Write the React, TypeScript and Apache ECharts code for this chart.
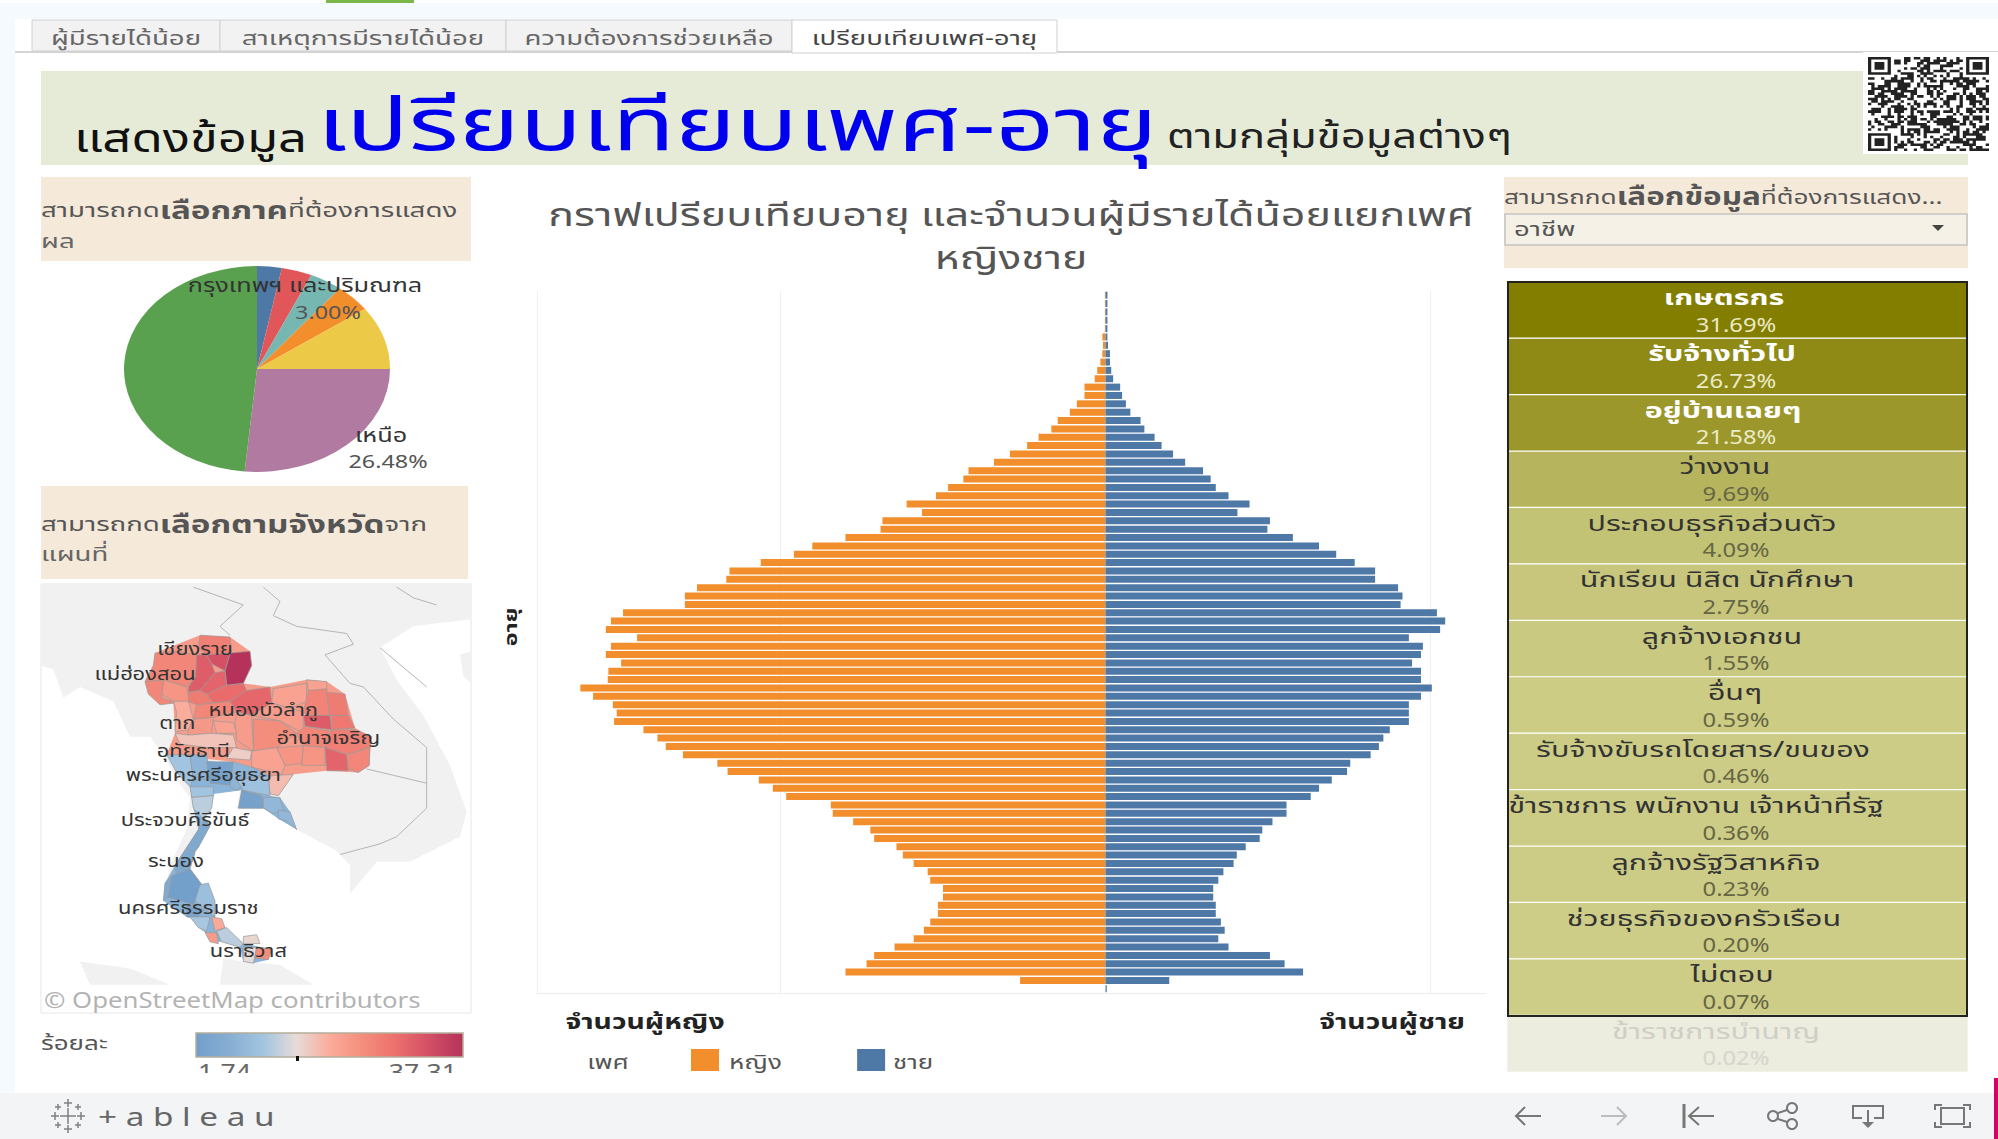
import React, { useEffect, useRef } from "react";
import * as echarts from "echarts";

const FONT = "'Noto Sans', 'Noto Sans Thai', 'Liberation Sans', sans-serif";

const femaleCounts = [1,1,1,1,1,5,4,5,8,13,17,33,33,45,56,75,85,105,123,150,175,215,223,247,266,312,288,350,353,408,460,489,541,590,595,641,660,660,757,776,784,735,776,784,760,780,781,824,804,773,767,771,725,703,690,663,609,593,544,522,501,431,428,396,369,363,328,318,301,279,275,255,255,263,263,275,285,301,331,363,375,408,134,0];
const maleCounts = [3,3,3,3,3,3,4,7,7,9,12,23,26,32,39,55,61,77,88,106,125,153,165,173,193,226,207,258,254,294,335,362,391,423,423,459,466,463,520,533,525,476,498,495,481,495,495,512,495,476,476,476,446,436,429,416,384,379,355,335,322,284,284,262,246,242,220,206,201,185,177,169,169,173,173,181,187,177,193,258,281,310,100,2];
const ageRows = femaleCounts.map((_, i) => String(100 - i));

const occupationNames = ["เกษตรกร","รับจ้างทั่วไป","อยู่บ้านเฉยๆ","ว่างงาน","ประกอบธุรกิจส่วนตัว","นักเรียน นิสิต นักศึกษา","ลูกจ้างเอกชน","อื่นๆ","รับจ้างขับรถโดยสาร/ขนของ","ข้าราชการ พนักงาน เจ้าหน้าที่รัฐ","ลูกจ้างรัฐวิสาหกิจ","ช่วยธุรกิจของครัวเรือน","ไม่ตอบ","ข้าราชการบำนาญ"];
const occupationPercents = [31.69,26.73,21.58,9.69,4.09,2.75,1.55,0.59,0.46,0.36,0.23,0.20,0.07,0.02];
const occupationLabelCentres = [1724,1722,1723,1725,1712,1717,1722,1735,1703,1696,1716,1704,1732,1716];

const regionNames = ["กรุงเทพฯ และปริมณฑล","กลาง","ตะวันออก","ตะวันตก","ใต้","เหนือ","ตะวันออกเฉียงเหนือ"];
const regionPercents = [3.0,3.7,4.0,4.4,9.9,26.48,48.52];
const regionColors = ["#4e79a7","#e15759","#76b7b2","#f28e2b","#edc948","#b07aa1","#59a14f"];

const legendStops = ["#729fcb","#87aed3","#a1c4e0","#e6dcd8","#fbac9c","#f48e7c","#ec6f6d","#d24f65","#b5325b"];

type Prov = { name: string; value: number; pts: number[] };
const provinces: Prov[] = [
  { name: "เชียงราย", value: 26, pts: [510,155,600,160,605,205,530,210,505,190] },
  { name: "แม่ฮ่องสอน", value: 25, pts: [375,205,440,200,500,210,497,270,470,300,400,280,345,285,370,240] },
  { name: "เชียงใหม่", value: 23, pts: [400,280,470,300,480,345,430,340,395,320] },
  { name: "ลำพูน", value: 25, pts: [345,285,400,280,395,330,435,345,390,350,355,320] },
  { name: "น่าน", value: 37.3, pts: [600,205,660,200,665,240,640,290,590,295,585,255] },
  { name: "พะเยา", value: 32.7, pts: [530,210,600,205,585,255,545,235] },
  { name: "ลำปาง", value: 30.9, pts: [500,210,530,210,545,235,555,260,510,310,475,315,475,300,497,270] },
  { name: "แพร่", value: 30, pts: [555,260,585,255,590,295,530,320,510,310] },
  { name: "อุตรดิตถ์", value: 29, pts: [590,295,640,290,650,310,600,340,550,345,530,320] },
  { name: "สุโขทัย", value: 26.6, pts: [475,315,510,310,530,320,550,345,500,350,475,340] },
  { name: "ตาก", value: 19.5, pts: [430,340,475,340,490,390,475,420,435,425,440,370] },
  { name: "กำแพงเพชร", value: 22.5, pts: [490,390,550,385,545,430,475,435,475,420] },
  { name: "พิษณุโลก", value: 25, pts: [500,350,550,345,600,340,620,370,550,385,490,390] },
  { name: "เลย", value: 29.5, pts: [600,340,650,310,720,300,725,345,665,380,620,370] },
  { name: "หนองคาย", value: 21, pts: [730,305,830,290,830,340,780,360,725,345] },
  { name: "บึงกาฬ", value: 21, pts: [830,280,890,285,890,310,835,310] },
  { name: "สกลนคร", value: 25.5, pts: [835,310,890,305,895,350,900,380,840,380,820,370] },
  { name: "นครพนม", value: 26.6, pts: [890,315,945,320,955,380,900,380] },
  { name: "กาฬสินธุ์", value: 31, pts: [820,380,900,380,905,420,825,410] },
  { name: "มุกดาหาร", value: 27, pts: [905,380,955,380,975,415,905,420] },
  { name: "อุดรธานี", value: 22, pts: [725,345,780,360,820,370,820,430,750,395,665,380] },
  { name: "ขอนแก่น", value: 24, pts: [670,390,750,395,800,430,740,470,670,480] },
  { name: "เพชรบูรณ์", value: 22, pts: [620,370,665,380,670,480,620,450,615,400] },
  { name: "พิจิตร", value: 21, pts: [550,395,610,400,620,430,560,430] },
  { name: "ร้อยเอ็ด", value: 25, pts: [800,430,825,410,905,425,890,470,820,465] },
  { name: "อำนาจเจริญ", value: 26, pts: [905,420,975,420,1025,440,1018,470,950,490,885,470] },
  { name: "ลพบุรี", value: 17.4, pts: [435,430,475,435,545,430,610,435,620,470,530,470,450,460] },
  { name: "สระบุรี", value: 16.5, pts: [610,470,665,480,660,505,590,500] },
  { name: "นครราชสีมา", value: 21, pts: [665,480,740,470,765,520,755,545,665,525] },
  { name: "บุรีรัมย์", value: 23, pts: [740,470,820,465,815,515,765,520] },
  { name: "สุรินทร์", value: 23, pts: [820,465,885,470,885,520,815,520] },
  { name: "ศรีสะเกษ", value: 30, pts: [885,470,950,490,955,535,890,535] },
  { name: "อุบลราชธานี", value: 25, pts: [950,490,1018,470,1018,520,985,540,955,530] },
  { name: "สระแก้ว", value: 18, pts: [715,550,790,545,745,605,720,600] },
  { name: "กาญจนบุรี", value: 10.6, pts: [410,490,480,490,490,555,480,580,440,540] },
  { name: "สุพรรณบุรี", value: 7.4, pts: [480,490,530,490,540,560,490,560] },
  { name: "พระนครศรีอยุธยา", value: 2.5, pts: [530,510,610,510,605,575,540,570] },
  { name: "สระบุรีใต้", value: 7.4, pts: [610,510,665,525,700,540,620,590,600,580] },
  { name: "ฉะเชิงเทรา", value: 10, pts: [620,560,715,550,720,605,640,590] },
  { name: "ราชบุรี", value: 10.6, pts: [480,580,550,580,550,605,485,610] },
  { name: "เพชรบุรี", value: 12.4, pts: [485,610,550,605,545,640,520,670,490,640] },
  { name: "ชลบุรี", value: 2.5, pts: [635,590,695,605,700,640,625,640] },
  { name: "ระยอง", value: 8, pts: [700,610,750,610,760,645,730,655,700,640] },
  { name: "จันทบุรี", value: 8, pts: [745,645,780,650,800,700,770,675,745,670] },
  { name: "ประจวบคีรีขันธ์", value: 4.6, pts: [525,670,540,690,505,750,475,780,470,750,505,700] },
  { name: "ชุมพร", value: 4.6, pts: [470,750,495,765,480,810,440,830,435,800] },
  { name: "สุราษฎร์ธานี", value: 2, pts: [425,830,480,810,520,860,490,910,415,890] },
  { name: "พังงา", value: 5, pts: [405,850,425,830,415,890,400,900] },
  { name: "นครศรีธรรมราช", value: 9.6, pts: [510,855,535,850,555,900,555,945,520,920,495,900] },
  { name: "ตรัง", value: 3, pts: [470,910,520,925,500,950,470,945] },
  { name: "พัทลุง", value: 11, pts: [480,945,540,945,530,985,505,975] },
  { name: "สงขลาเหนือ", value: 20, pts: [545,945,575,950,585,975,555,985] },
  { name: "สตูล", value: 22, pts: [525,988,560,990,565,1020,540,1015] },
  { name: "สงขลา", value: 12.4, pts: [560,985,590,975,640,1020,630,1030,575,1015] },
  { name: "ปัตตานี", value: 15.6, pts: [640,1000,680,995,690,1020,640,1020] },
  { name: "ยะลา", value: 15, pts: [640,1030,680,1030,670,1075,640,1070] },
  { name: "นราธิวาส", value: 24, pts: [680,1030,725,1035,715,1065,675,1060] },
];
const mapLabels = [
  { name: "เชียงราย", x: 495, y: 192 },
  { name: "แม่ฮ่องสอน", x: 345, y: 262 },
  { name: "หนองบัวลำภู", x: 700, y: 362 },
  { name: "ตาก", x: 442, y: 400 },
  { name: "อำนาจเจริญ", x: 895, y: 442 },
  { name: "อุทัยธานี", x: 490, y: 478 },
  { name: "พระนครศรีอยุธยา", x: 520, y: 546 },
  { name: "ประจวบคีรีขันธ์", x: 465, y: 672 },
  { name: "ระนอง", x: 438, y: 787 },
  { name: "นครศรีธรรมราช", x: 475, y: 918 },
  { name: "นราธิวาส", x: 655, y: 1040 },
];
const landOutlines = [
  [33,10,1323,10,1323,110,1150,130,1050,190,1100,280,1180,380,1260,520,1310,650,1290,720,1140,790,1040,790,960,880,960,800,920,760,800,700,770,660,700,640,620,640,630,590,560,590,540,640,500,720,440,820,400,900,420,800,470,700,480,610,440,560,400,490,360,440,300,440,250,340,150,300,100,330,70,250,33,240],
  [150,1070,300,1090,420,1135,180,1135],
  [580,1060,640,1070,750,1080,850,1135,570,1135],
  [1290,210,1323,200,1323,290,1300,270],
];
const provinceUnderlays = [
  { fill: "#f59c8a", pts: [375,205,510,155,600,160,660,200,665,240,640,290,720,300,830,280,890,285,945,320,975,415,1025,440,1018,520,985,540,890,535,790,545,745,605,720,600,665,525,610,510,410,490,435,430,430,345,355,320,345,285,370,240] },
  { fill: "#8ab4d8", pts: [410,490,665,525,720,550,720,605,750,610,780,650,800,700,745,670,700,640,625,640,635,590,550,600,545,640,520,670,540,690,505,750,495,765,480,810,520,860,555,900,555,945,585,975,640,1020,725,1035,715,1065,670,1075,640,1070,630,1030,575,1015,540,1015,525,988,505,975,480,945,470,945,400,900,405,850,435,800,470,750,505,700,490,640,480,580,440,540] },
];
const borderLines = [
  [490,20,640,70,570,130,600,155],
  [700,20,750,60,730,100,800,130,950,150,970,180,885,210,960,290,1000,300,1090,390,1190,470,1190,640,1100,720,1050,740,930,770],
  [1100,20,1150,50,1220,70],
  [1010,530,1190,570],
  [1050,190,1190,300],
];

const tabs = [
  { label: "ผู้มีรายได้น้อย", x0: 32, x1: 220 },
  { label: "สาเหตุการมีรายได้น้อย", x0: 220, x1: 506 },
  { label: "ความต้องการช่วยเหลือ", x0: 506, x1: 792 },
  { label: "เปรียบเทียบเพศ-อายุ", x0: 792, x1: 1057 },
];

const mx = (v: number) => 30 + v / 3;
const my = (v: number) => 580 + v / 2.805;
const ROW_H = 56.45;
const TABLE_TOP = 282;

function txt(text: string, x: number, y: number, o: any = {}) {
  return {
    type: "text", x, y, scaleX: o.scaleX ?? 1, scaleY: o.scaleY ?? 1, z: o.z ?? 20, silent: true,
    style: { text, fontFamily: FONT, fontSize: o.size ?? 16, fontWeight: o.weight ?? "normal", fill: o.color ?? "#555",
      align: o.align ?? "left", verticalAlign: o.va ?? "middle", rich: o.rich, opacity: o.opacity ?? 1 },
  };
}
function rect(x: number, y: number, w: number, h: number, fill: string, o: any = {}) {
  return { type: "rect", shape: { x, y, width: w, height: h }, z: o.z ?? -5, silent: true,
    style: { fill, stroke: o.stroke, lineWidth: o.lineWidth ?? 0 } };
}
function pline(pts: number[], stroke: string, lw = 2, z = 6) {
  const points: number[][] = [];
  for (let i = 0; i < pts.length; i += 2) points.push([pts[i], pts[i + 1]]);
  return { type: "polyline", shape: { points }, z, silent: true, style: { stroke, lineWidth: lw, fill: "none" } };
}
function pairs(pts: number[], fx = (v: number) => v, fy = (v: number) => v) {
  const out: number[][] = [];
  for (let i = 0; i < pts.length; i += 2) out.push([fx(pts[i]), fy(pts[i + 1])]);
  return out;
}

function qrPath() {
  const n = 37, seed = "เปรียบเทียบเพศอายุ-tableau-public-qr-cells";
  const sx = 121 / n, sy = 94 / n;
  let d = "", h = 7;
  const cell = (c: number, r: number) => { d += `M${(c * sx).toFixed(2)} ${(r * sy).toFixed(2)}h${sx.toFixed(2)}v${sy.toFixed(2)}h${(-sx).toFixed(2)}z`; };
  const inFinder = (c: number, r: number) => (c < 8 && r < 8) || (c >= n - 8 && r < 8) || (c < 8 && r >= n - 8);
  for (let r = 0; r < n; r++) for (let c = 0; c < n; c++) {
    if (inFinder(c, r)) continue;
    h = (h * 31 + seed.charCodeAt((r * n + c) % seed.length) + c * r) % 1009;
    if (h % 2 === 0) cell(c, r);
  }
  [[0, 0], [n - 7, 0], [0, n - 7]].forEach(([ox, oy]) => {
    for (let r = 0; r < 7; r++) for (let c = 0; c < 7; c++) {
      const edge = r === 0 || c === 0 || r === 6 || c === 6;
      const core = r >= 2 && r <= 4 && c >= 2 && c <= 4;
      if (edge || core) cell(ox + c, oy + r);
    }
  });
  return d;
}

function buildGraphics() {
  const g: any[] = [];
  g.push(rect(0, 0, 1998, 1139, "#ffffff", { z: -10 }));
  g.push(rect(0, 3, 1998, 17, "#f5fafe", { z: -9 }));
  g.push(rect(0, 3, 15, 1090, "#f5fafe", { z: -9 }));
  g.push(rect(326, 0, 88, 3, "#7ab648", { z: -9 }));
  // tabs
  g.push(rect(15, 19, 1983, 33, "#ffffff", { z: -8 }));
  g.push(rect(15, 51, 1983, 2, "#d4d4d4", { z: -8 }));
  tabs.forEach((t, i) => {
    const active = i === tabs.length - 1;
    g.push(rect(t.x0, 20, t.x1 - t.x0, active ? 33 : 31, active ? "#ffffff" : "#f2f2f2", { z: -7, stroke: "#d0d0d0", lineWidth: 1 }));
    g.push(txt(t.label, (t.x0 + t.x1) / 2, 37, { size: 20, scaleX: 1.38, align: "center", color: active ? "#444" : "#666" }));
  });
  // title band
  g.push(rect(41, 71, 1927, 94, "#e6ebd7"));
  g.push(txt("แสดงข้อมูล", 74, 136, { size: 40, scaleX: 1.27, color: "#111" }));
  g.push(txt("เปรียบเทียบเพศ-อายุ", 317, 121, { size: 74, scaleX: 1.39, color: "#0000ee" }));
  g.push(txt("ตามกลุ่มข้อมูลต่างๆ", 1167, 135, { size: 33, scaleX: 1.32, color: "#222" }));
  // QR
  g.push(rect(1863, 52, 135, 102, "#ffffff", { z: -4 }));
  g.push({ type: "qr", x: 1868, y: 57, z: 5, silent: true, style: { fill: "#222" } });
  // prompts
  const rich = { a: { fontFamily: FONT, fontSize: 20, color: "#666" }, b: { fontFamily: FONT, fontSize: 24, fontWeight: "bold", color: "#111" } };
  g.push(rect(41, 177, 430, 84, "#f5e9d9"));
  g.push(txt("{a|สามารถกด}{b|เลือกภาค}{a|ที่ต้องการแสดง}", 41, 209, { rich, scaleX: 1.38 }));
  g.push(txt("ผล", 41, 240, { size: 20, scaleX: 1.38, color: "#666" }));
  g.push(rect(41, 486, 427, 93, "#f5e9d9"));
  g.push(txt("{a|สามารถกด}{b|เลือกตามจังหวัด}{a|จาก}", 41, 523, { rich, scaleX: 1.38 }));
  g.push(txt("แผนที่", 41, 553, { size: 20, scaleX: 1.38, color: "#666" }));
  g.push(rect(1504, 177, 464, 91, "#f5e9d9"));
  g.push(txt("{a|สามารถกด}{b|เลือกข้อมูล}{a|ที่ต้องการแสดง...}", 1504, 196, { rich, scaleX: 1.31 }));
  g.push(rect(1505, 214, 462, 31, "#f6f1e7", { stroke: "#c4c4c4", lineWidth: 1.5, z: -4 }));
  g.push(txt("อาชีพ", 1514, 229, { size: 19, scaleX: 1.45, color: "#555" }));
  g.push({ type: "polygon", z: 5, silent: true, shape: { points: [[1932, 225], [1944, 225], [1938, 231]] }, style: { fill: "#444" } });
  // pie labels
  g.push(txt("กรุงเทพฯ และปริมณฑล", 305, 285, { size: 19, scaleX: 1.33, align: "center", color: "#333" }));
  g.push(txt("3.00%", 328, 312, { size: 18, scaleX: 1.3, align: "center", color: "#555" }));
  g.push(txt("เหนือ", 381, 435, { size: 19, scaleX: 1.33, align: "center", color: "#333" }));
  g.push(txt("26.48%", 388, 461, { size: 18, scaleX: 1.3, align: "center", color: "#555" }));
  // map background
  g.push(rect(41, 584, 430, 429, "#ffffff", { z: -6, stroke: "#e6e6e6", lineWidth: 1 }));
  landOutlines.forEach((o) => g.push({ type: "polygon", z: -5, silent: true, shape: { points: pairs(o, mx, my) }, style: { fill: "#f1f1f1" } }));
  borderLines.forEach((b) => g.push({ type: "polyline", z: -4, silent: true, shape: { points: pairs(b, mx, my) }, style: { stroke: "#b5b5b5", lineWidth: 1, fill: "none" } }));
  provinceUnderlays.forEach((u) => g.push({ type: "polygon", z: -3, silent: true, shape: { points: pairs(u.pts, mx, my) }, style: { fill: u.fill } }));
  mapLabels.forEach((l) => g.push(txt(l.name, mx(l.x), my(l.y), { size: 18, scaleX: 1.22, align: "center", color: "#333", z: 20 })));
  g.push(txt("© OpenStreetMap contributors", 44, 999, { size: 22, scaleX: 1.17, color: "#b3b3b3" }));
  // colour legend
  g.push(txt("ร้อยละ", 41, 1042, { size: 20, scaleX: 1.3, color: "#555" }));
  g.push({ type: "rect", z: 5, silent: true, shape: { x: 196, y: 1033, width: 267, height: 24 },
    style: { stroke: "#b5ad9c", lineWidth: 1.5, fill: new echarts.graphic.LinearGradient(0, 0, 1, 0, legendStops.map((color, i) => ({ offset: i / (legendStops.length - 1), color }))) } });
  g.push({ type: "rect", z: 6, silent: true, shape: { x: 296, y: 1056, width: 3, height: 5 }, style: { fill: "#111" } });
  g.push(txt("1.74", 198, 1072, { size: 21, scaleX: 1.27, color: "#666" }));
  g.push(txt("37.31", 457, 1072, { size: 21, scaleX: 1.27, color: "#666", align: "right" }));
  g.push(rect(15, 1073, 560, 20, "#ffffff", { z: 21 }));
  // footer
  g.push(rect(0, 1093, 1998, 46, "#f3f4f6", { z: 22 }));
  g.push({ type: "rect", z: 23, silent: true, shape: { x: 1994, y: 1078, width: 4, height: 61 }, style: { fill: "#d6006c" } });
  g.push(txt("+ a b l e a u", 98, 1116, { size: 26, scaleX: 1.28, color: "#666", z: 23 }));
  [[68, 1116, 8], [68, 1103, 4], [68, 1129, 4], [55, 1116, 4], [81, 1116, 4], [58, 1107, 3], [78, 1107, 3], [58, 1125, 3], [78, 1125, 3]].forEach(([cx, cy, r]) => {
    g.push(pline([cx - r, cy, cx + r, cy], "#808080", 1.5, 23));
    g.push(pline([cx, cy - r, cx, cy + r], "#808080", 1.5, 23));
  });
  const ic = "#777", dim = "#bcbcbc";
  g.push(pline([1541, 1116, 1516, 1116], ic, 2, 23), pline([1525, 1107, 1516, 1116, 1525, 1125], ic, 2, 23));
  g.push(pline([1601, 1116, 1626, 1116], dim, 2, 23), pline([1617, 1107, 1626, 1116, 1617, 1125], dim, 2, 23));
  g.push(pline([1684, 1104, 1684, 1128], ic, 3, 23), pline([1714, 1116, 1689, 1116], ic, 2, 23), pline([1699, 1107, 1689, 1116, 1699, 1125], ic, 2, 23));
  [[1773, 1116], [1792, 1108], [1792, 1124]].forEach(([cx, cy]) => g.push({ type: "circle", z: 23, silent: true, shape: { cx, cy, r: 5 }, style: { fill: "none", stroke: ic, lineWidth: 2 } }));
  g.push(pline([1778, 1113, 1787, 1110], ic, 2, 23), pline([1778, 1119, 1787, 1122], ic, 2, 23));
  g.push(pline([1862, 1118, 1853, 1118, 1853, 1106, 1883, 1106, 1883, 1118, 1874, 1118], ic, 2, 23), pline([1868, 1110, 1868, 1124], ic, 2, 23));
  g.push({ type: "polygon", z: 23, silent: true, shape: { points: [[1862, 1122], [1874, 1122], [1868, 1128]] }, style: { fill: ic } });
  g.push(rect(1941, 1108, 23, 16, "none", { z: 23, stroke: ic, lineWidth: 2 }));
  g.push(pline([1935, 1110, 1935, 1105, 1942, 1105], ic, 2, 23), pline([1963, 1105, 1970, 1105, 1970, 1110], ic, 2, 23), pline([1935, 1122, 1935, 1127, 1942, 1127], ic, 2, 23), pline([1963, 1127, 1970, 1127, 1970, 1122], ic, 2, 23));
  // pyramid labels
  g.push(txt("กราฟเปรียบเทียบอายุ และจำนวนผู้มีรายได้น้อยแยกเพศ", 1011, 214, { size: 32, scaleX: 1.34, align: "center", color: "#555" }));
  g.push(txt("หญิงชาย", 1011, 257, { size: 32, scaleX: 1.33, align: "center", color: "#555" }));
  g.push({ ...txt("อายุ", 510, 627, { size: 18, scaleX: 1.3, weight: "bold", align: "center", color: "#222" }), rotation: Math.PI / 2 });
  g.push(txt("จำนวนผู้หญิง", 645, 1020, { size: 22, scaleX: 1.29, weight: "bold", align: "center", color: "#222" }));
  g.push(txt("จำนวนผู้ชาย", 1392, 1020, { size: 22, scaleX: 1.29, weight: "bold", align: "center", color: "#222" }));
  g.push(txt("เพศ", 608, 1061, { size: 20, scaleX: 1.3, align: "center", color: "#555" }));
  g.push(txt("หญิง", 729, 1061, { size: 20, scaleX: 1.3, color: "#555" }));
  g.push(txt("ชาย", 893, 1061, { size: 20, scaleX: 1.3, color: "#555" }));
  // table labels
  occupationNames.forEach((name, i) => {
    const dark = i < 3, faded = i === occupationNames.length - 1;
    const top = TABLE_TOP + ROW_H * i;
    g.push(txt(name, occupationLabelCentres[i], top + 15, { size: 21, scaleX: 1.45, align: "center", weight: dark ? "bold" : "normal", color: dark ? "#ffffff" : faded ? "#cfcfc6" : "#333333", z: 12 }));
    g.push(txt(occupationPercents[i].toFixed(2) + "%", 1736, top + 42, { size: 19, scaleX: 1.25, align: "center", color: dark ? "#ecebc8" : faded ? "#d5d5cc" : "#666644", z: 12 }));
  });
  g.push({ type: "rect", z: 10, silent: true, shape: { x: 1508, y: 282, width: 459, height: 734 }, style: { fill: "none", stroke: "#222", lineWidth: 2 } });
  return g;
}

function buildOption() {
  const geoJson = {
    type: "FeatureCollection",
    features: provinces.map((p) => {
      const ring = pairs(p.pts);
      ring.push(ring[0]);
      return { type: "Feature", properties: { name: p.name }, geometry: { type: "Polygon", coordinates: [ring] } };
    }),
  };
  echarts.registerMap("thaiProvinces", geoJson as any);
  const xs = provinces.flatMap((p) => p.pts.filter((_, i) => i % 2 === 0));
  const ys = provinces.flatMap((p) => p.pts.filter((_, i) => i % 2 === 1));
  const [x0, x1, y0, y1] = [Math.min(...xs), Math.max(...xs), Math.min(...ys), Math.max(...ys)];
  const pieTotal = regionPercents.reduce((a, b) => a + b, 0);

  return {
    animation: false,
    backgroundColor: "#ffffff",
    textStyle: { fontFamily: FONT },
    grid: [
      { left: 537, top: 291, width: 949, height: 702, containLabel: false },
      { left: 1507, top: 282, width: 461, height: 790 },
    ],
    xAxis: [
      { gridIndex: 0, type: "value", min: -892, max: 597, axisLabel: { show: false }, axisLine: { show: true, onZero: false, lineStyle: { color: "#ececec" } },
        axisTick: { show: false, customValues: [-892, -510, 510] }, splitLine: { show: true, lineStyle: { color: "#efefef", width: 1 } } },
      { gridIndex: 1, type: "category", data: ["share"], show: false },
    ],
    yAxis: [
      { gridIndex: 0, type: "category", inverse: true, data: ageRows, axisLabel: { show: false }, axisLine: { show: false }, axisTick: { show: false } },
      { gridIndex: 1, type: "category", inverse: true, data: occupationNames, show: false },
    ],
    visualMap: [
      { show: false, type: "continuous", seriesIndex: 3, min: 1.74, max: 37.31, inRange: { color: legendStops } },
      { show: false, type: "continuous", seriesIndex: 4, min: 0, max: 31.69, range: [0.05, 31.69], inRange: { color: ["#cdcd88", "#837e00"] }, outOfRange: { color: "#ececdf" } },
    ],
    legend: {
      show: true, left: 691, top: 1049, padding: 0, icon: "rect", itemWidth: 28, itemHeight: 22, itemGap: 130, selectedMode: false,
      data: ["หญิง", "ชาย"], formatter: () => " ", textStyle: { fontFamily: FONT, fontSize: 12, color: "#555" },
    },
    series: [
      { name: "หญิง", type: "bar", xAxisIndex: 0, yAxisIndex: 0, barWidth: 7, barGap: "-100%", data: femaleCounts.map((v) => -v), itemStyle: { color: "#f28e2b" }, silent: true },
      { name: "ชาย", type: "bar", xAxisIndex: 0, yAxisIndex: 0, barWidth: 7, barGap: "-100%", data: maleCounts, itemStyle: { color: "#4e79a7" }, silent: true },
      {
        name: "ภาค", type: "custom", coordinateSystem: "none", silent: true, z: 3,
        data: regionPercents.map((v, i) => ({ name: regionNames[i], value: [v, i] })),
        renderItem: (_p: any, api: any) => {
          const idx = api.value(1);
          const before = regionPercents.slice(0, idx).reduce((a, b) => a + b, 0);
          const start = -Math.PI / 2 + (before / pieTotal) * Math.PI * 2;
          const end = start + (api.value(0) / pieTotal) * Math.PI * 2;
          return { type: "sector", x: 257, y: 369, scaleX: 1, scaleY: 103 / 133,
            shape: { cx: 0, cy: 0, r: 133, r0: 0, startAngle: start, endAngle: end, clockwise: true },
            style: { fill: regionColors[idx] } };
        },
      },
      {
        name: "ร้อยละ", type: "map", map: "thaiProvinces", roam: false, silent: true, z: 3, showLegendSymbol: false,
        projection: { project: (p: number[]) => [p[0] / 3, p[1] / 2.805], unproject: (p: number[]) => [p[0] * 3, p[1] * 2.805] },
        left: mx(x0), top: my(y0), width: (x1 - x0) / 3, height: (y1 - y0) / 2.805,
        label: { show: false }, emphasis: { disabled: true }, select: { disabled: true },
        itemStyle: { borderColor: "#9a9a9a", borderWidth: 0.7 },
        data: provinces.map((p) => ({ name: p.name, value: p.value })),
      },
      {
        name: "อาชีพ", type: "heatmap", xAxisIndex: 1, yAxisIndex: 1, silent: true, z: 3,
        data: occupationPercents.map((v, i) => [0, i, v]),
        itemStyle: { borderColor: "#ffffff", borderWidth: 1.2 },
        label: { show: false },
      },
    ],
    graphic: { elements: buildGraphics() },
  };
}

export default function App() {
  const ref = useRef<HTMLDivElement>(null);
  useEffect(() => {
    document.body.style.margin = "0";
    echarts.graphic.registerShape("qr", echarts.graphic.extendPath(qrPath(), {}) as any);
    const chart = echarts.init(ref.current!, undefined, { renderer: "svg" });
    chart.setOption(buildOption() as any);
    return () => chart.dispose();
  }, []);
  return <div ref={ref} style={{ width: 1998, height: 1139, overflow: "hidden" }} />;
}
